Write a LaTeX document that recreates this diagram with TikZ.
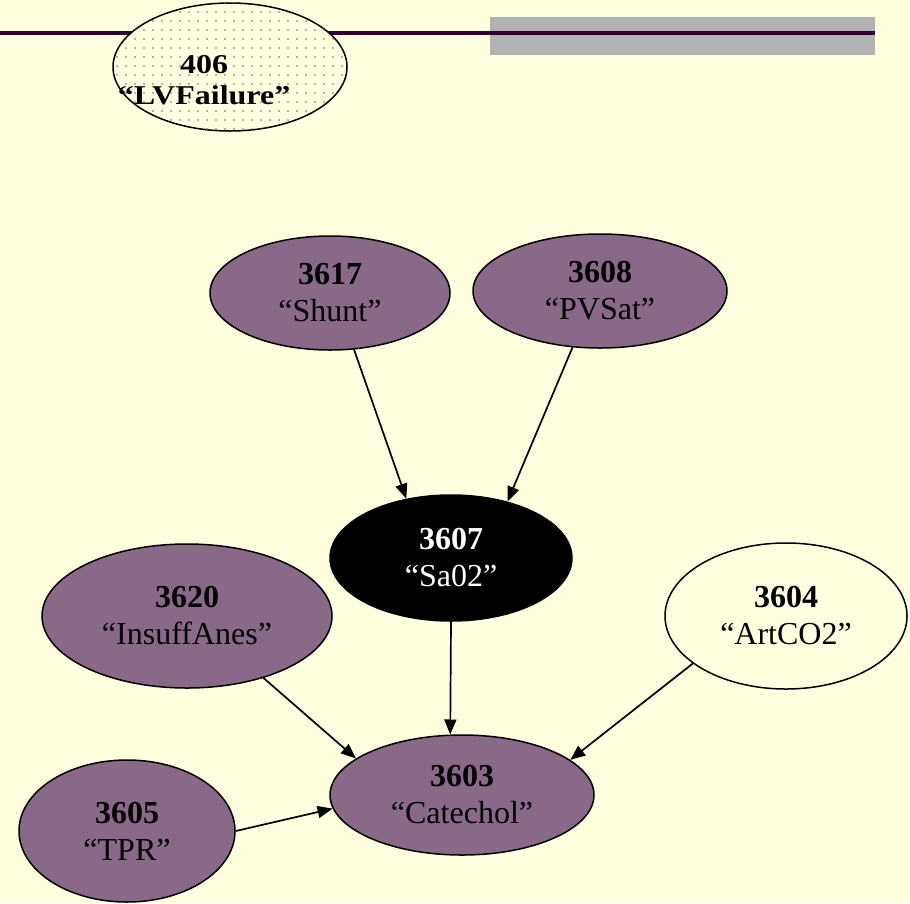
\documentclass[tikz,border=0pt]{standalone}
\usepackage{fontspec}
\setmainfont{Liberation Serif}
\usetikzlibrary{shapes.geometric,arrows.meta,patterns.meta}

\definecolor{paper}{RGB}{255,255,224}
\definecolor{mauve}{RGB}{136,106,136}
\definecolor{rulecol}{RGB}{51,0,51}
\definecolor{barcol}{RGB}{178,178,178}
\definecolor{dotcol}{RGB}{110,110,110}

\newcommand{\squash}[1]{\scalebox{1}[0.85]{#1}}

\begin{document}
\begin{tikzpicture}[x=1pt,y=-1pt,
  var/.style 2 args={ellipse,draw=black,line width=1.5pt,inner sep=0pt,
    align=center,minimum width=#1,minimum height=#2,
    font=\fontsize{32}{37}\selectfont},
  hiddenvar/.style={fill=mauve},
  plainvar/.style={fill=paper},
  queryvar/.style={fill=black,text=white},
  dotted var/.style={fill=paper,
    postaction={pattern={Dots[distance=9pt,radius=0.85pt]},pattern color=dotcol}},
  edge/.style={line width=1.7pt,-{Triangle[length=15pt,width=12pt]}}
]
% page
\fill[paper] (0,0) rectangle (910,903);
\useasboundingbox (0,0) rectangle (910,903);

% title bar
\fill[barcol] (490,17) rectangle (875,55);
\draw[rulecol,line width=4pt] (0,33) -- (875,33);

% nodes
\node[var={234pt}{128pt},dotted var] (lv) at (230,67) {};
\node[align=center,font=\fontsize{32}{31}\selectfont\bfseries] (lvlabel) at (204,80)
  {\squash{406}\\\squash{“LVFailure”}};

\node[var={240pt}{114pt},hiddenvar] (shunt) at (330,293) {\textbf{3617}\\“Shunt”};
\node[var={254pt}{114pt},hiddenvar] (pvsat) at (600,291) {\textbf{3608}\\“PVSat”};
\node[var={242pt}{126pt},queryvar] (sa) at (451,558) {\textbf{3607}\\“Sa02”};
\node[var={290pt}{144pt},hiddenvar] (insuff) at (187,616) {\textbf{3620}\\“InsuffAnes”};
\node[var={242pt}{146pt},plainvar] (art) at (786,616) {\textbf{3604}\\“ArtCO2”};
\node[var={264pt}{120pt},hiddenvar] (cat) at (462,795) {\textbf{3603}\\“Catechol”};
\node[var={216pt}{142pt},hiddenvar] (tpr) at (127,831) {\textbf{3605}\\“TPR”};

% arcs
\draw[edge] (shunt.-67) -- (sa.127);
\draw[edge] (pvsat.-116) -- (sa.45);
\draw[edge] (sa.south) -- (cat.101);
\draw[edge] (insuff.-39) -- (cat.161);
\draw[edge] (art.-153) -- (cat.18);
\draw[edge] (tpr.east) -- (cat.186);
\end{tikzpicture}
\end{document}
